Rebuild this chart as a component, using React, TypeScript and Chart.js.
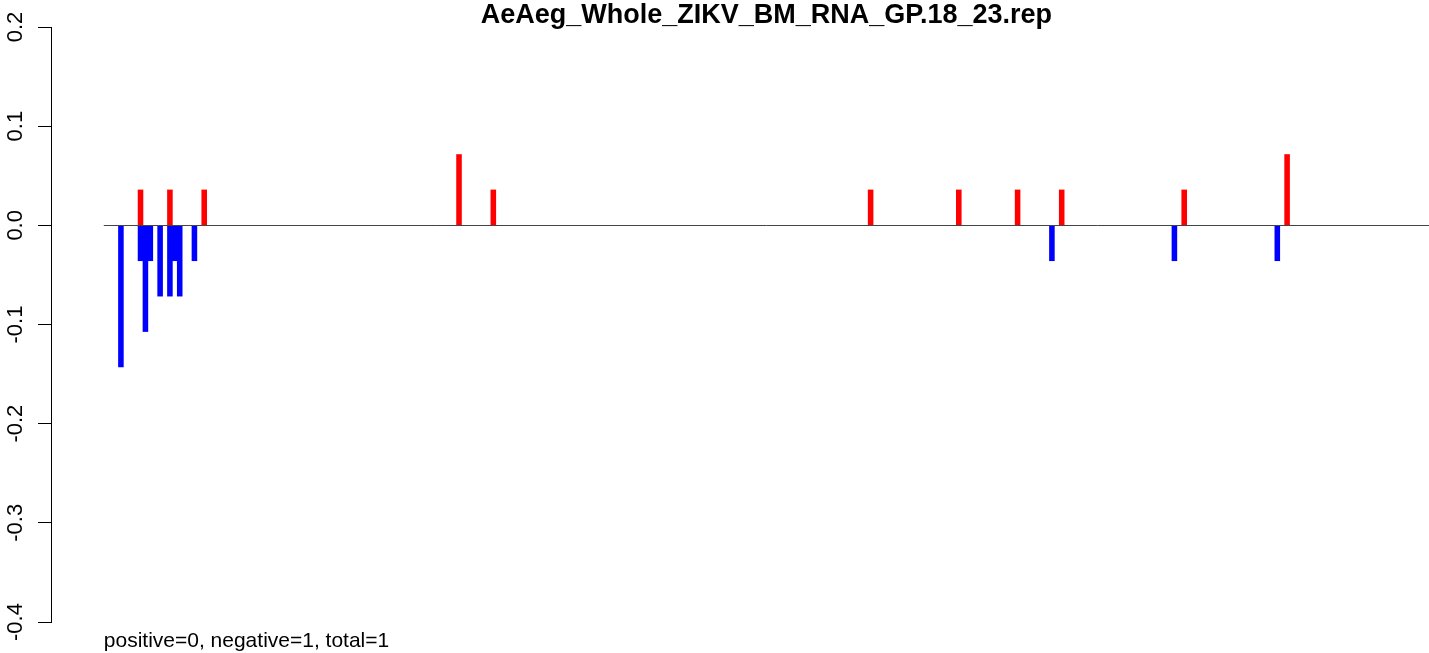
import React, { useEffect, useRef } from "react";
import { Chart, registerables } from "chart.js";

Chart.register(...registerables);

const TITLE = "AeAeg_Whole_ZIKV_BM_RNA_GP.18_23.rep";
const FOOTER = "positive=0, negative=1, total=1";

// slot index along the sequence for each bar
const positiveSlots = [7, 13, 20, 72, 79, 156, 174, 186, 195, 220, 241];
const positiveValues = [0.0357, 0.0357, 0.0357, 0.0714, 0.0357, 0.0357, 0.0357, 0.0357, 0.0357, 0.0357, 0.0714];
const negativeSlots = [3, 7, 8, 9, 11, 13, 14, 15, 18, 193, 218, 239];
const negativeValues = [-0.1429, -0.0357, -0.1071, -0.0357, -0.0714, -0.0714, -0.0357, -0.0714, -0.0357, -0.0357, -0.0357, -0.0357];

const yTicks = [-0.4, -0.3, -0.2, -0.1, 0.0, 0.1, 0.2];

const FONT = "'Liberation Sans', Arial, Helvetica, sans-serif";

export default function App() {
  const ref = useRef<HTMLCanvasElement | null>(null);

  useEffect(() => {
    if (!ref.current) return;
    const pos = positiveSlots.map((s, i) => ({ x: s, y: positiveValues[i] }));
    const neg = negativeSlots.map((s, i) => ({ x: s, y: negativeValues[i] }));

    const decor = {
      id: "decor",
      afterDatasetsDraw(chart: any) {
        const { ctx, chartArea, scales } = chart;
        const x = scales.x;
        const y = scales.y;
        const startX = x.getPixelForValue(-0.5);
        const y0 = Math.round(y.getPixelForValue(0)) + 0.5;
        ctx.save();
        ctx.strokeStyle = "#444444";
        ctx.lineWidth = 1;
        ctx.beginPath();
        ctx.moveTo(startX, y0);
        ctx.lineTo(chartArea.right, y0);
        ctx.stroke();
        ctx.restore();
      },
      afterDraw(chart: any) {
        const { ctx, chartArea, scales } = chart;
        const startX = scales.x.getPixelForValue(-0.5);
        ctx.save();
        ctx.fillStyle = "#000";
        ctx.font = `bold 27px ${FONT}`;
        ctx.textAlign = "center";
        ctx.textBaseline = "alphabetic";
        ctx.fillText(TITLE, (startX + chartArea.right) / 2, 23);
        ctx.font = `21px ${FONT}`;
        ctx.textAlign = "left";
        ctx.fillText(FOOTER, startX, 647);
        ctx.restore();
      },
    };

    const chart = new Chart(ref.current, {
      type: "bar",
      data: {
        datasets: [
          {
            label: "positive",
            data: pos,
            backgroundColor: "#ff0000",
            borderWidth: 0,
            barThickness: 4.9,
            grouped: false,
          } as any,
          {
            label: "negative",
            data: neg,
            backgroundColor: "#0000ff",
            borderWidth: 0,
            barThickness: 4.9,
            grouped: false,
          } as any,
        ],
      },
      options: {
        animation: false,
        responsive: false,
        devicePixelRatio: 1,
        layout: { padding: { top: 27, bottom: 31, left: 0, right: 0 } },
        plugins: {
          legend: { display: false },
          tooltip: { enabled: false },
          title: { display: false },
        },
        scales: {
          x: {
            type: "linear",
            display: false,
            offset: false,
            min: -11.27,
            max: 269.96,
          },
          y: {
            min: -0.4,
            max: 0.2,
            afterBuildTicks(scale: any) {
              scale.ticks = yTicks.map((v) => ({ value: v }));
            },
            afterFit(scale: any) {
              scale.width = 51;
            },
            border: { display: true, color: "#000", width: 1 },
            grid: {
              drawOnChartArea: false,
              drawTicks: true,
              tickLength: 13,
              tickColor: "#000",
              color: "#000",
            },
            ticks: {
              minRotation: 90,
              maxRotation: 90,
              crossAlign: "center",
              padding: 3,
              color: "#000",
              font: { family: FONT, size: 22 },
              callback: (v: any) => (Math.abs(Number(v)) < 1e-9 ? "0.0" : Number(v).toFixed(1)),
            },
          },
        },
      },
      plugins: [decor],
    });
    return () => chart.destroy();
  }, []);

  return (
    <div style={{ position: "absolute", left: 0, top: 0, width: 1429, height: 653, background: "#fff" }}>
      <canvas ref={ref} width={1429} height={653} style={{ display: "block" }} />
    </div>
  );
}
